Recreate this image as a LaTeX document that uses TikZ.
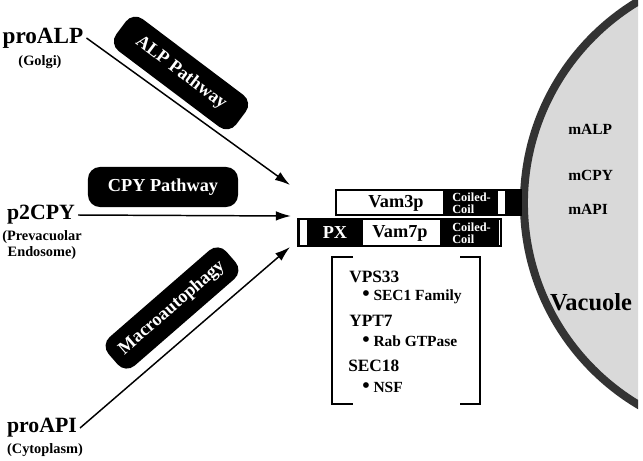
\documentclass[tikz,border=0pt]{standalone}
\usepackage{fontspec}
\setmainfont{Liberation Serif}
\usetikzlibrary{arrows.meta}

\tikzset{
  protein/.style={font=\fontsize{15.5}{17}\selectfont\bfseries, inner sep=0pt},
  origin/.style={font=\fontsize{10.2}{11.4}\selectfont\bfseries, align=center, inner sep=0pt},
  pathbox/.style={fill=black, text=white, rounded corners=0.3cm, minimum width=3.75cm, minimum height=1cm, font=\fontsize{13}{15}\selectfont\bfseries},
  route/.style={line width=1.05pt, -{Latex[length=3.8mm,width=2.4mm]}},
  segtext/.style={font=\fontsize{13}{15}\selectfont\bfseries, inner sep=0pt},
  coil/.style={anchor=west, text=white, align=left, font=\fontsize{8.8}{8.8}\selectfont\bfseries, inner sep=0pt},
  factor/.style={anchor=west, inner sep=0pt, font=\fontsize{12.3}{14}\selectfont\bfseries},
  role/.style={anchor=west, inner sep=0pt, font=\fontsize{11}{13}\selectfont\bfseries},
  mature/.style={anchor=west, inner sep=0pt, font=\fontsize{11}{13}\selectfont\bfseries},
}
\newcommand{\bigdot}{{\fontsize{15}{13}\selectfont\textbullet}}

\begin{document}
\begin{tikzpicture}[x=0.025cm, y=-0.025cm]
\useasboundingbox (0,0) rectangle (643,460);

\begin{scope}
\clip (0,0) rectangle (638,460);
\fill[black!15] (759,203) circle[radius=5.875cm];
\draw[black!80, line width=2mm] (759,203) circle[radius=5.875cm];
\end{scope}
\node[mature](malp) at (568,129) {mALP};
\node[mature](mcpy) at (568,175) {mCPY};
\node[mature](mapi) at (568,209) {mAPI};
\node[font=\fontsize{17.4}{20}\selectfont\bfseries](vac) at (591,302) {Vacuole};

\node[protein, font=\fontsize{16.5}{18}\selectfont\bfseries](proALP) at (43,38) {proALP};
\node[origin](golgi) at (40,62) {(Golgi)};
\node[protein](p2CPY) at (41,215) {p2CPY};
\node[origin](pve) at (42,245) {(Prevacuolar\\Endosome)};
\node[protein](proAPI) at (42,428) {proAPI};
\node[origin](cyto) at (45,450) {(Cytoplasm)};

\node[pathbox, rotate=-37](alpway) at (181,73) {ALP Pathway};
\node[pathbox](cpyway) at (163,187) {CPY Pathway};
\node[pathbox, rotate=41, minimum width=3.9cm, minimum height=0.95cm](autoph) at (172,308) {Macroautophagy};

\coordinate (tipALP) at (290,185);
\coordinate (tipCPY) at (291,216);
\coordinate (tipAPI) at (290,247);
\draw[route] ([xshift=2pt]proALP.east) -- (tipALP);
\draw[route] ([xshift=2pt]p2CPY.east) -- (tipCPY);
\draw[route] ([xshift=2pt]proAPI.east) -- (tipAPI);

\fill (335,189) rectangle (522,216);
\fill[white] (337,191) rectangle (443,214);
\fill[white] (498,191) rectangle (505,214);
\node[segtext](vam3) at (396,203) {Vam3p};
\node[coil](cc3) at (452,203) {Coiled-\\Coil};

\fill (297,218) rectangle (502,247);
\fill[white] (300,220) rectangle (307,245);
\fill[white] (363,220) rectangle (440,245);
\fill[white] (498.5,220) rectangle (499.5,245);
\node[segtext, text=white](px) at (335,233) {PX};
\node[segtext](vam7) at (400,233) {Vam7p};
\node[coil](cc7) at (452,233) {Coiled-\\Coil};

\draw[line width=1.4pt] (353,257) -- (332,257) -- (332,404) -- (353,404);
\draw[line width=1.4pt] (460,257) -- (480,257) -- (480,404) -- (460,404);
\node[factor](vps33) at (349,277) {VPS33};
\node[role](sec1) at (362,297) {\bigdot\ SEC1 Family};
\node[factor](ypt7) at (349,321) {YPT7};
\node[role](rab) at (362,341) {\bigdot\ Rab GTPase};
\node[factor](sec18) at (348,366) {SEC18};
\node[role](nsf) at (362,387) {\bigdot\ NSF};
\end{tikzpicture}
\end{document}
